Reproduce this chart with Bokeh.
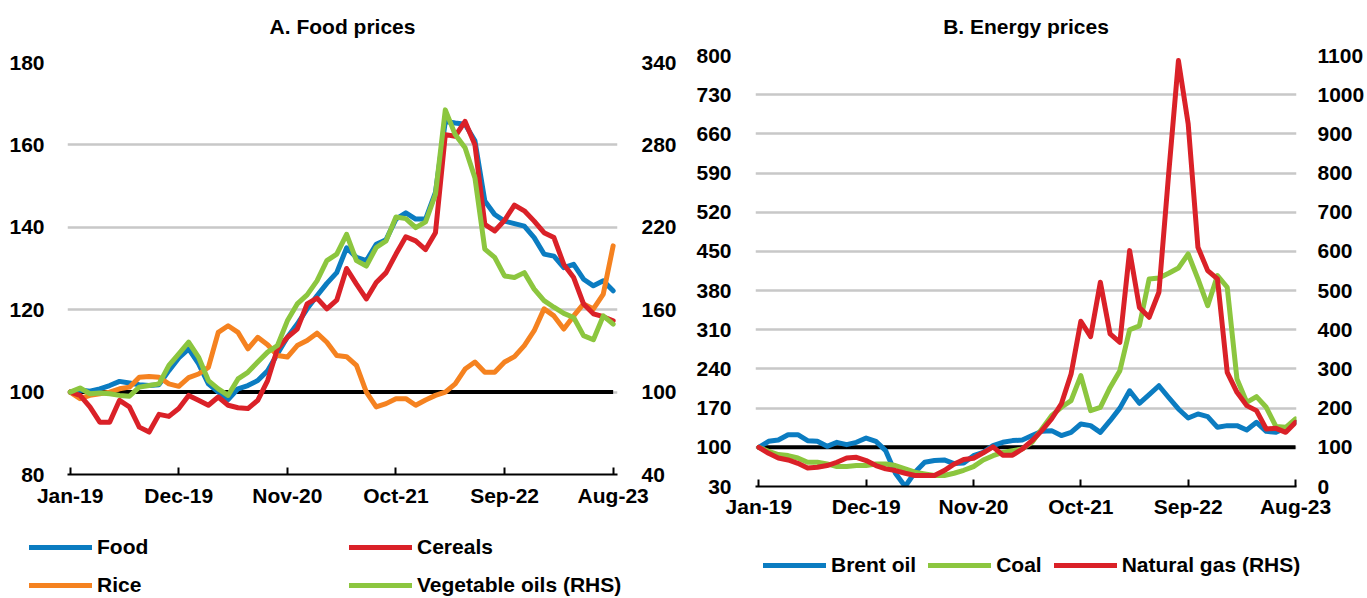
from bokeh.plotting import figure
from bokeh.models import Range1d, LinearAxis, FixedTicker, Legend, LegendItem, Title
from bokeh.layouts import row, column
from bokeh.embed import file_html
from bokeh.resources import INLINE

# ---------------- data ----------------
months = list(range(56))  # Jan-19 .. Aug-23
tick_idx = [0, 11, 22, 33, 44, 55]
tick_labels = ["Jan-19", "Dec-19", "Nov-20", "Oct-21", "Sep-22", "Aug-23"]
baseline = [100] * 56

food = [100, 100.5, 100.2, 100.8, 101.6, 102.6, 102.2, 101.8, 101.6, 101.8,
        105.2, 108.3, 110.5, 106.9, 102.0, 100.0, 98.2, 100.8, 101.6, 102.8,
        105.2, 109.3, 113.3, 116.5, 120.2, 123.4, 126.4, 129.0, 135.0, 132.7,
        131.9, 135.9, 137.0, 142.0, 143.5, 142.0, 142.0, 148.5, 165.7, 165.3,
        165.0, 161.0, 146.4, 143.1, 141.5, 140.9, 140.3, 137.5, 133.5, 133.0,
        130.2, 131.0, 127.4, 125.8, 127.0, 124.6]
cereals = [100, 99.2, 96.4, 92.7, 92.7, 98.0, 96.4, 91.5, 90.3, 94.6,
           94.1, 96.0, 99.2, 98.0, 96.8, 98.8, 96.8, 96.2, 96.0, 98.0,
           102.8, 110.5, 113.3, 115.3, 121.4, 122.8, 120.2, 122.3, 130.0, 126.2,
           122.6, 126.6, 129.0, 133.5, 137.7, 136.7, 134.6, 138.7, 162.5, 162.1,
           165.7, 160.0, 140.7, 139.1, 141.7, 145.4, 144.0, 141.5, 138.7, 137.5,
           131.0, 127.8, 121.4, 119.0, 118.3, 117.3]
rice = [100, 98.4, 99.2, 99.6, 100.0, 100.8, 101.2, 103.6, 103.8, 103.6,
        102.0, 101.4, 103.5, 104.4, 106.0, 114.5, 116.1, 114.5, 110.5, 113.3,
        111.5, 108.9, 108.5, 111.3, 112.5, 114.3, 112.1, 108.9, 108.6, 106.5,
        100.0, 96.4, 97.2, 98.4, 98.4, 96.8, 98.1, 99.2, 100.0, 102.0,
        105.6, 107.3, 104.8, 104.8, 107.3, 108.6, 111.3, 114.9, 120.2, 118.5,
        115.3, 118.5, 121.4, 120.2, 123.8, 135.5]
veg_oils = [100, 103.0, 98.8, 99.4, 98.8, 97.6, 97.0, 103.6, 104.8, 106.0,
            119.5, 127.9, 136.3, 125.5, 108.4, 102.4, 97.6, 109.6, 114.4, 121.9,
            129.1, 133.9, 151.9, 164.2, 170.8, 181.0, 195.7, 200.5, 214.9, 195.7,
            191.8, 205.3, 210.1, 227.5, 226.3, 219.7, 223.9, 244.0, 305.5, 287.5,
            277.9, 256.0, 204.1, 198.1, 184.6, 183.4, 187.0, 175.0, 166.6, 161.8,
            157.3, 154.3, 141.1, 138.1, 155.5, 149.5]

brent = [100, 110.7, 113.0, 122.5, 122.5, 111.9, 110.7, 101.8, 108.9, 104.7,
         108.9, 116.6, 110.7, 94.0, 53.7, 30.0, 55.5, 73.3, 76.3, 77.5,
         71.0, 72.0, 85.0, 91.0, 103.0, 109.0, 112.0, 113.0, 121.0, 128.6,
         129.8, 121.0, 126.8, 141.7, 138.7, 126.8, 147.6, 170.0, 201.0, 178.6,
         194.0, 210.0, 189.0, 168.5, 152.4, 159.6, 154.8, 135.7, 138.7, 138.7,
         131.0, 144.7, 128.6, 126.8, 134.5, 145.0]
coal = [100, 92.9, 87.0, 85.2, 81.0, 73.3, 73.3, 70.3, 65.6, 65.6,
        67.4, 67.4, 70.3, 70.3, 67.4, 61.4, 55.5, 52.6, 49.6, 49.6,
        53.7, 59.0, 65.5, 77.4, 85.0, 91.0, 94.0, 97.0, 109.0, 132.8,
        156.6, 171.5, 183.4, 228.0, 165.5, 171.5, 207.0, 237.0, 310.0, 317.0,
        400.8, 402.6, 410.9, 420.4, 445.4, 400.8, 353.0, 406.8, 386.0, 222.0,
        180.4, 190.5, 171.5, 137.0, 135.7, 150.6]
natural_gas = [100, 84.7, 72.9, 67.8, 59.3, 47.5, 49.2, 53.4, 61.9, 72.9,
               74.6, 66.1, 53.4, 44.9, 40.7, 33.9, 28.0, 28.0, 28.0, 40.7,
               57.0, 69.0, 72.0, 86.0, 101.0, 80.0, 80.0, 95.7, 117.0, 142.6,
               172.3, 210.6, 287.0, 421.7, 382.6, 521.3, 389.4, 368.0, 602.0, 457.0,
               432.0, 495.7, 798.0, 1087.0, 925.5, 610.6, 551.0, 529.8, 291.5, 240.4,
               206.4, 193.6, 146.8, 148.5, 138.3, 163.8]

a_left_ticks = [80, 100, 120, 140, 160, 180]
a_right_ticks = [40, 100, 160, 220, 280, 340]
b_left_ticks = [30, 100, 170, 240, 310, 380, 450, 520, 590, 660, 730, 800]
b_right_ticks = [0, 100, 200, 300, 400, 500, 600, 700, 800, 900, 1000, 1100]

# ---------------- style ----------------
FONT = "Liberation Sans"
FS = "21px"
BLUE = "#0b7cc1"
RED = "#da2128"
ORANGE = "#f58220"
GREEN = "#8cc63f"
GRID = "#c8c8c8"
LW = 5
TOP_H = 522
LEG_H = 76
W_A = 686
W_B = 681


def make_fig(title, width, height, xr, yr, yr_right, lticks, rticks,
             mb_left, mb_right, mb_top, mb_bottom, title_gap,
             l_stand, r_stand, x_stand):
    p = figure(width=width, height=height, x_range=Range1d(*xr),
               y_range=Range1d(*yr), output_backend="svg",
               toolbar_location=None, min_border_left=mb_left,
               min_border_right=mb_right, min_border_top=mb_top,
               min_border_bottom=mb_bottom, frame_align=False)
    p.extra_y_ranges = {"right": Range1d(*yr_right)}
    p.outline_line_color = None
    # empty spacer between the frame and the title
    p.add_layout(Title(text=" ", text_font_size="1px", standoff=title_gap), "above")
    p.title.text = title
    p.title.align = "center"
    p.title.text_font = FONT
    p.title.text_font_size = FS
    p.title.text_font_style = "bold"
    p.title.text_color = "black"
    p.title.standoff = 0

    xa = p.xaxis[0]
    xa.ticker = FixedTicker(ticks=tick_idx)
    xa.major_label_overrides = {i: l for i, l in zip(tick_idx, tick_labels)}
    xa.axis_line_color = "black"
    xa.axis_line_width = 2
    xa.major_tick_line_color = "black"
    xa.major_tick_line_width = 2
    xa.major_tick_in = 7
    xa.major_tick_out = 0
    xa.minor_tick_line_color = None
    xa.major_label_standoff = x_stand

    ya = p.yaxis[0]
    ya.ticker = FixedTicker(ticks=lticks)
    ra = LinearAxis(y_range_name="right", ticker=FixedTicker(ticks=rticks))
    p.add_layout(ra, "right")
    for ax, st in ((ya, l_stand), (ra, r_stand)):
        ax.axis_line_color = None
        ax.major_tick_line_color = None
        ax.minor_tick_line_color = None
        ax.major_tick_in = 0
        ax.major_tick_out = 0
        ax.minor_tick_in = 0
        ax.minor_tick_out = 0
        ax.major_label_standoff = st

    for ax in (xa, ya, ra):
        ax.major_label_text_font = FONT
        ax.major_label_text_font_size = FS
        ax.major_label_text_font_style = "bold"
        ax.major_label_text_color = "black"

    p.xgrid.grid_line_color = None
    p.ygrid.grid_line_color = GRID
    p.ygrid.grid_line_width = 2.5
    p.ygrid.ticker = FixedTicker(ticks=lticks)
    return p


def legend_fig(width):
    p = figure(width=width, height=LEG_H, x_range=Range1d(0, 1),
               y_range=Range1d(0, 1), output_backend="svg",
               toolbar_location=None, x_axis_type=None, y_axis_type=None,
               min_border_left=0, min_border_right=0, min_border_top=0,
               min_border_bottom=0, frame_align=False)
    p.outline_line_color = None
    p.xgrid.grid_line_color = None
    p.ygrid.grid_line_color = None
    return p


def make_legend(items, loc, orientation="vertical", spacing=8):
    leg = Legend(items=items, location=loc, orientation=orientation)
    leg.background_fill_alpha = 0
    leg.border_line_color = None
    leg.padding = 0
    leg.margin = 0
    leg.spacing = spacing
    leg.glyph_width = 63
    leg.glyph_height = 30
    leg.label_height = 30
    leg.label_standoff = 5
    leg.label_text_font = FONT
    leg.label_text_font_size = FS
    leg.label_text_font_style = "bold"
    leg.label_text_color = "black"
    return leg


def add_line(p, x, y, color, **kw):
    return p.line(x, y, line_color=color, line_width=LW,
                  line_join="round", line_cap="round", **kw)


# ---------------- Panel A ----------------
pa = make_fig("A. Food prices", W_A, TOP_H, (-0.27, 55.44), (80, 180), (40, 340),
              a_left_ticks, a_right_ticks, 67, 69, 62, TOP_H - 474, 22, 23, 24, 9)
pa.line(months, baseline, line_color="black", line_width=4)
add_line(pa, months, food, BLUE)
add_line(pa, months, rice, ORANGE)
add_line(pa, months, cereals, RED)
add_line(pa, months, veg_oils, GREEN, y_range_name="right")

# legend panel: the keys reuse the series (they fall outside this panel's ranges)
la = legend_fig(W_A)
k_food = add_line(la, months, food, BLUE)
k_cer = add_line(la, months, cereals, RED)
k_rice = add_line(la, months, rice, ORANGE)
k_veg = add_line(la, months, veg_oils, GREEN)
la.add_layout(make_legend([LegendItem(label="Food", renderers=[k_food]),
                           LegendItem(label="Rice", renderers=[k_rice])],
                          (29, -2)))
la.add_layout(make_legend([LegendItem(label="Cereals", renderers=[k_cer]),
                           LegendItem(label="Vegetable oils (RHS)", renderers=[k_veg])],
                          (349, -2)))

# ---------------- Panel B ----------------
pb = make_fig("B. Energy prices", W_B, TOP_H, (-0.34, 55.1), (30, 800), (0, 1100),
              b_left_ticks, b_right_ticks, 69, 71, 55, TOP_H - 486, 15, 24, 21, 8)
pb.line(months, baseline, line_color="black", line_width=4)
add_line(pb, months, brent, BLUE)
add_line(pb, months, coal, GREEN)
add_line(pb, months, natural_gas, RED, y_range_name="right")

lb = legend_fig(W_B)
k_brent = add_line(lb, months, brent, BLUE)
k_coal = add_line(lb, months, coal, GREEN)
k_gas = add_line(lb, months, natural_gas, RED)
lb.add_layout(make_legend([LegendItem(label="Brent oil", renderers=[k_brent]),
                           LegendItem(label="Coal", renderers=[k_coal]),
                           LegendItem(label="Natural gas (RHS)", renderers=[k_gas])],
                          (77, 18), orientation="horizontal", spacing=12))

layout = column(row(pa, pb), row(la, lb))
open("out.html", "w").write(file_html(layout, INLINE))
